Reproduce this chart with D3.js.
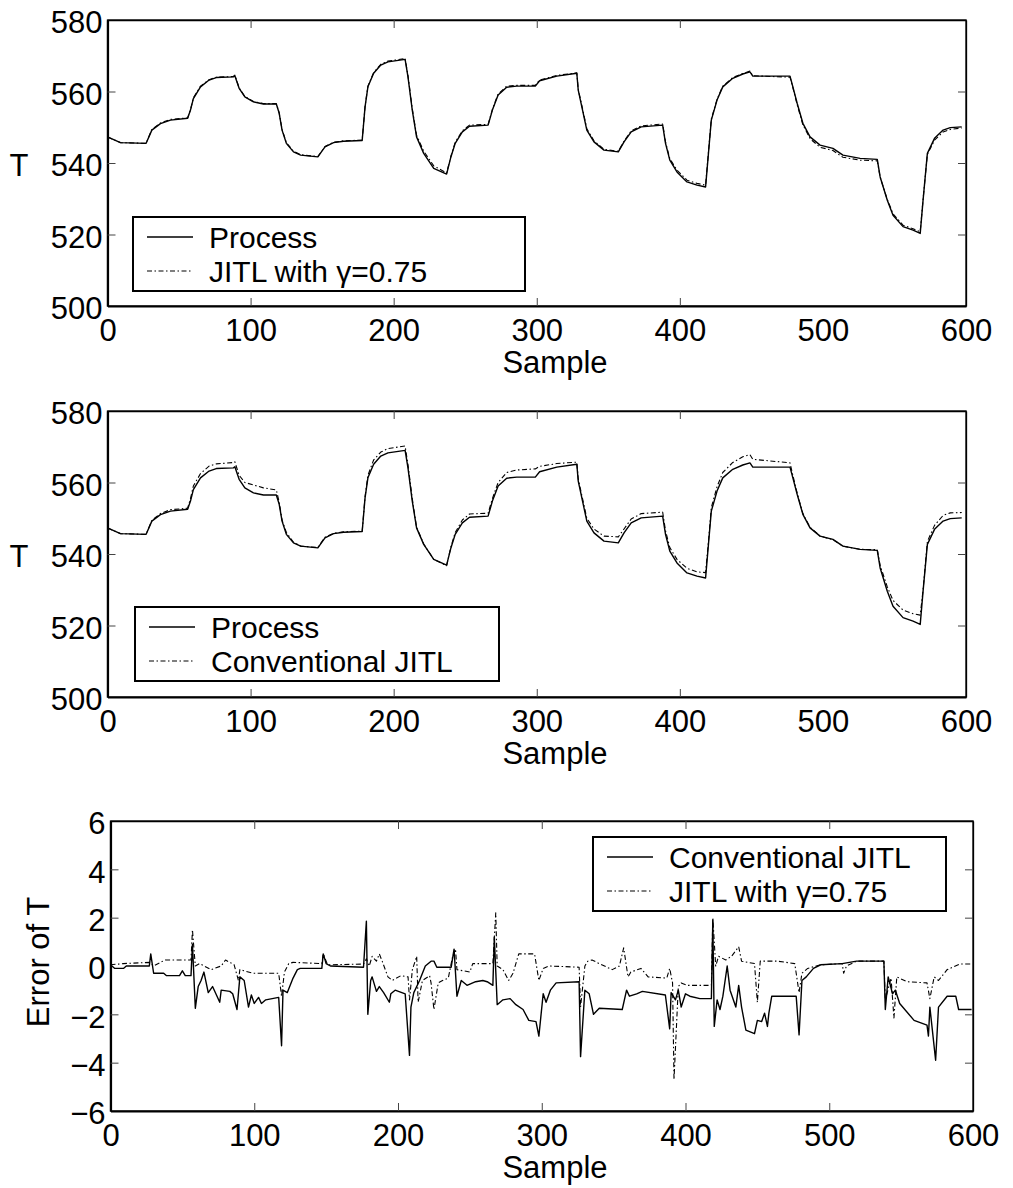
<!DOCTYPE html>
<meta charset="utf-8">
<style>
  body { margin: 0; background: #fff; }
  svg text { font-family: "Liberation Sans", Arial, sans-serif; fill: #000; }
</style>
<body>
<script src="https://d3js.org/d3.v7.min.js"></script>
<script>
// sample index shared by the temperature curves
const sample = [0, 9, 27, 31, 37, 44, 56, 58, 60, 65, 71, 76, 88, 89, 92, 96, 102, 109, 118, 120,
  122, 125, 130, 135, 147, 152, 158, 165, 178, 180, 182, 186, 191, 196, 208, 210, 213, 216, 221, 228,
  237, 240, 243, 248, 253, 266, 269, 273, 279, 286, 299, 302, 314, 328, 329, 332, 335, 340, 347, 357,
  361, 366, 373, 388, 390, 393, 398, 405, 412, 418, 420, 422, 426, 430, 437, 444, 449, 451, 477, 479,
  482, 486, 491, 498, 507, 514, 526, 538, 540, 545, 549, 556, 563, 568, 570, 573, 578, 584, 589, 597];

const processT = [547.3, 545.7, 545.5, 549.2, 551.0, 552.0, 552.5, 554.8, 558.0, 561.3, 563.2, 563.9, 564.1, 564.4, 560.9, 558.5, 557.1, 556.5, 556.5, 553.9,
  549.2, 545.5, 543.1, 542.2, 541.7, 544.5, 545.7, 546.1, 546.3, 555.7, 561.3, 565.1, 567.4, 568.3, 569.0, 564.1, 554.8, 547.3, 542.7, 538.5,
  536.9, 541.7, 545.5, 548.7, 550.3, 550.6, 554.8, 559.0, 561.2, 561.5, 561.5, 563.0, 564.3, 565.1, 560.4, 554.8, 549.2, 545.9, 543.6, 543.1,
  545.9, 548.7, 550.1, 550.6, 545.5, 540.8, 537.5, 534.7, 533.8, 533.3, 542.7, 552.0, 557.6, 561.3, 563.7, 564.9, 565.5, 564.3, 564.3, 561.3,
  556.7, 551.1, 547.3, 545.0, 544.1, 542.2, 541.3, 541.0, 536.1, 529.6, 525.4, 522.2, 521.2, 520.3, 529.6, 542.7, 546.9, 549.2, 549.9, 550.1];

const gammaT = [547.3, 545.7, 545.5, 549.4, 551.2, 552.2, 552.6, 554.9, 558.2, 561.5, 563.3, 564.0, 564.2, 564.6, 561.0, 558.6, 557.2, 556.6, 556.6, 554.0,
  549.4, 545.7, 543.3, 542.3, 541.8, 544.6, 545.8, 546.2, 546.4, 555.8, 561.5, 565.3, 567.6, 568.5, 569.2, 564.5, 555.2, 547.8, 543.3, 539.2,
  537.2, 541.9, 545.8, 549.0, 550.6, 550.8, 555.0, 559.3, 561.5, 561.7, 561.7, 563.2, 564.5, 565.2, 560.6, 555.2, 549.6, 546.2, 543.8, 543.3,
  546.1, 549.0, 550.4, 550.9, 545.9, 541.2, 538.0, 535.2, 534.3, 533.8, 543.0, 552.3, 557.8, 561.5, 563.9, 565.0, 565.7, 564.4, 564.0, 561.1,
  556.3, 550.7, 546.8, 544.4, 543.5, 541.6, 540.8, 540.6, 536.0, 529.8, 525.8, 522.6, 521.6, 520.8, 529.8, 542.4, 546.4, 548.7, 549.4, 549.8];

const convT = [547.3, 545.7, 545.5, 549.4, 551.3, 552.4, 552.8, 555.5, 559.0, 562.5, 564.6, 565.2, 565.6, 565.8, 562.0, 560.0, 559.3, 558.5, 557.9, 554.5,
  549.5, 546.0, 543.3, 542.2, 541.8, 544.7, 545.8, 546.2, 546.4, 556.0, 562.0, 566.3, 568.5, 569.5, 570.2, 565.0, 555.5, 547.5, 542.8, 538.5,
  536.7, 542.0, 546.0, 549.5, 551.2, 551.4, 555.5, 560.0, 562.8, 563.5, 563.8, 564.5, 565.3, 565.7, 561.0, 555.5, 550.0, 547.0, 545.0, 544.8,
  547.0, 549.8, 551.3, 551.7, 546.5, 541.8, 538.5, 536.0, 535.0, 534.8, 543.5, 553.0, 558.8, 562.8, 565.6, 567.2, 567.8, 566.5, 565.5, 562.0,
  557.0, 551.3, 547.5, 545.0, 544.0, 542.2, 541.3, 541.2, 536.8, 530.8, 527.0, 524.3, 523.3, 522.9, 530.0, 543.5, 548.0, 550.8, 551.5, 551.6];

// prediction errors (bottom panel)
const convErrSample = [0, 3, 9, 11, 27, 28, 30, 37, 39, 48, 50, 52, 56, 57, 59, 61, 63, 65, 68, 71,
  76, 77, 83, 85, 88, 90, 93, 96, 98, 100, 103, 105, 108, 117, 119, 120, 123, 127, 130, 132,
  147, 148, 150, 153, 176, 178, 179, 181, 182, 185, 187, 190, 194, 195, 198, 205, 208, 209, 211, 215,
  219, 223, 225, 227, 237, 239, 241, 244, 248, 254, 259, 262, 266, 267, 269, 273, 278, 282, 287, 291,
  296, 298, 301, 303, 306, 310, 326, 327, 330, 333, 336, 340, 356, 359, 361, 366, 370, 386, 389, 390,
  393, 395, 397, 400, 403, 410, 418, 419, 420, 422, 424, 426, 429, 431, 435, 437, 439, 442, 448, 450,
  453, 455, 457, 458, 460, 477, 479, 481, 484, 489, 494, 509, 519, 538, 539, 541, 544, 546, 549, 559,
  568, 569, 570, 574, 576, 582, 588, 590, 599];
const convErr = [0.05, -0.1, -0.1, 0.0, 0.0, 0.5, -0.3, -0.3, -0.4, -0.4, -0.2, -0.4, -0.4, 0.9, -1.75, -0.85, -0.6, -0.25, -1.1, -0.85,
  -1.5, -1.0, -1.05, -1.15, -1.8, -0.45, -0.6, -1.7, -1.2, -1.55, -1.3, -1.55, -1.4, -1.3, -3.3, -1.0, -1.1, -0.5, -0.15, -0.1,
  -0.1, 0.5, 0.1, 0.0, -0.05, 1.85, -2.0, -0.6, -0.45, -1.05, -0.85, -1.1, -1.5, -1.15, -1.0, -1.15, -3.7, -1.7, -1.1, -0.6,
  0.0, 0.2, 0.2, -0.05, -0.05, 0.7, -1.25, -0.6, -0.8, -0.65, -0.6, -0.65, -0.8, 1.2, -1.6, -1.4, -1.35, -1.6, -1.8, -2.25,
  -2.3, -2.9, -1.15, -1.5, -1.0, -0.7, -0.65, -3.75, -1.0, -1.15, -2.0, -1.75, -1.8, -1.0, -1.25, -1.15, -1.05, -1.2, -2.6, -1.1,
  -1.4, -1.0, -1.7, -1.15, -1.25, -1.35, -1.35, 1.9, -2.5, -1.4, -1.8, -1.25, 0.0, -1.0, -1.7, -0.8, -1.7, -2.65, -2.8, -2.25,
  -2.3, -1.95, -2.5, -1.95, -1.25, -1.25, -2.85, -0.6, -0.45, -0.1, 0.05, 0.1, 0.2, 0.2, -1.8, -0.45, -1.15, -1.0, -1.55, -2.25,
  -2.45, -2.9, -1.7, -3.9, -1.7, -1.25, -1.25, -1.8, -1.8];

const gammaErrSample = [0, 9, 27, 30, 38, 56, 57, 59, 62, 70, 77, 80, 86, 89, 90, 99, 117, 119, 121, 124,
  127, 147, 148, 151, 176, 178, 180, 182, 185, 187, 189, 193, 196, 202, 207, 208, 210, 213, 214, 217,
  222, 223, 225, 228, 231, 235, 238, 240, 241, 250, 252, 266, 268, 269, 273, 277, 280, 284, 295, 298,
  301, 305, 326, 327, 330, 332, 335, 340, 349, 354, 357, 360, 362, 369, 374, 387, 389, 391, 392, 395,
  397, 401, 418, 419, 421, 423, 428, 432, 437, 439, 448, 450, 452, 464, 476, 479, 481, 485, 494, 509,
  510, 512, 519, 538, 539, 543, 545, 547, 554, 568, 570, 573, 576, 582, 591, 599];
const gammaErr = [0.05, 0.1, 0.15, 0.0, 0.25, 0.25, 1.5, 0.0, 0.1, -0.15, 0.0, 0.25, 0.05, -0.6, -0.15, -0.3, -0.3, -1.25, -0.25, 0.1,
  0.15, 0.1, 0.5, 0.05, 0.08, 0.3, 0.0, 0.4, 0.2, 0.5, 0.2, -0.45, -0.6, -0.4, -0.45, -1.4, -0.15, 0.4, -1.5, -0.6,
  -0.4, -0.7, -1.8, -0.7, -0.6, -0.5, 0.4, 0.7, -0.15, -0.25, 0.1, 0.1, 2.2, 0.0, -0.15, -0.6, -0.3, 0.5, 0.5, -0.6,
  -0.1, 0.0, -0.05, -1.7, 0.0, 0.2, 0.25, 0.1, -0.15, 0.0, 0.75, -0.45, -0.25, -0.1, -0.45, -0.5, -0.1, -0.7, -4.7, -0.85,
  -0.7, -0.8, -0.8, 2.0, 0.0, 0.4, 0.25, 0.4, 0.8, 0.2, 0.1, -1.5, 0.2, 0.2, 0.1, -1.1, -0.3, -0.1, 0.05, 0.1,
  -0.3, 0.0, 0.2, 0.2, -1.4, -0.5, -2.15, -0.45, -0.65, -0.7, -1.35, -0.45, -0.6, -0.15, 0.08, 0.08];

// tick labels
const xTicks = [0, 100, 200, 300, 400, 500, 600];
const tTicks = [500, 520, 540, 560, 580];
const errTicks = [-6, -4, -2, 0, 2, 4, 6];

const FS = 31;      // axis text
const LFS = 30;     // legend text
const dashDot = "5,2.5,1.5,2.5";

const svg = d3.select("body").append("svg")
    .attr("width", 1013)
    .attr("height", 1188);

function drawPanel(p) {
  const x = d3.scaleLinear().domain([0, 600]).range([p.left, p.right]);
  const y = d3.scaleLinear().domain(p.yDomain).range([p.bottom, p.top]);
  const g = svg.append("g");

  // box
  g.append("rect")
      .attr("x", p.left).attr("y", p.top)
      .attr("width", p.right - p.left).attr("height", p.bottom - p.top)
      .attr("fill", "none").attr("stroke", "#000").attr("stroke-width", 1.3);

  // inner ticks on all four sides
  const bottom = g.append("g")
      .attr("transform", "translate(0," + p.bottom + ")")
      .call(d3.axisBottom(x).tickValues(xTicks).tickSizeInner(-8).tickSizeOuter(0).tickPadding(13));
  const left = g.append("g")
      .attr("transform", "translate(" + p.left + ",0)")
      .call(d3.axisLeft(y).tickValues(p.yTicks).tickSizeInner(-8).tickSizeOuter(0).tickPadding(5));
  g.append("g")
      .attr("transform", "translate(0," + p.top + ")")
      .call(d3.axisTop(x).tickValues(xTicks).tickSizeInner(-8).tickSizeOuter(0).tickFormat(""));
  g.append("g")
      .attr("transform", "translate(" + p.right + ",0)")
      .call(d3.axisRight(y).tickValues(p.yTicks).tickSizeInner(-8).tickSizeOuter(0).tickFormat(""));

  g.selectAll(".domain").attr("stroke", "#000").attr("stroke-width", 1.3);
  bottom.select(".domain").attr("stroke-width", 2.2);
  left.select(".domain").attr("stroke-width", 2.2);
  g.selectAll(".tick line").attr("stroke", "#444").attr("stroke-width", 1);
  g.selectAll(".tick text").attr("font-size", FS).attr("font-family", null).attr("fill", "#000");
  left.selectAll(".tick text").attr("y", 3);
  // ticks at the box corners are hidden by the frame
  g.selectAll(".tick").filter(d => d === 0 || d === 600 || d === p.yDomain[0] || d === p.yDomain[1])
      .select("line").attr("stroke", "none");

  // curves
  const line = d3.line().x(d => x(d[0])).y(d => y(d[1]));
  p.series.forEach(s => {
    g.append("path")
        .datum(d3.zip(s.xs, s.ys))
        .attr("d", line)
        .attr("fill", "none")
        .attr("stroke", "#000")
        .attr("stroke-width", s.dash ? 1.1 : 1.4)
        .attr("stroke-dasharray", s.dash ? dashDot : null)
        .attr("stroke-linejoin", "round");
  });

  // axis titles
  g.append("text")
      .attr("x", 555).attr("y", p.bottom + 67)
      .attr("text-anchor", "middle").attr("font-size", FS)
      .text("Sample");
  if (p.rotateTitle) {
    g.append("text")
        .attr("transform", "translate(" + p.titleX + "," + ((p.top + p.bottom) / 2 - 4) + ") rotate(-90)")
        .attr("text-anchor", "middle").attr("dy", "0.35em").attr("font-size", FS)
        .text(p.yTitle);
  } else {
    g.append("text")
        .attr("x", p.titleX).attr("y", (p.top + p.bottom) / 2 + 2)
        .attr("text-anchor", "middle").attr("dy", "0.35em").attr("font-size", FS)
        .text(p.yTitle);
  }

  // legend
  const L = p.legend;
  const lg = g.append("g");
  lg.append("rect")
      .attr("x", L.x0).attr("y", L.y0)
      .attr("width", L.x1 - L.x0).attr("height", L.y1 - L.y0)
      .attr("fill", "#fff").attr("stroke", "#000").attr("stroke-width", 2);
  p.series.forEach((s, i) => {
    const cy = L.y0 + 20 + i * 34;
    lg.append("line")
        .attr("x1", L.x0 + 14).attr("x2", L.x0 + 60)
        .attr("y1", cy).attr("y2", cy)
        .attr("stroke", "#000")
        .attr("stroke-width", s.dash ? 1.1 : 1.4)
        .attr("stroke-dasharray", s.dash ? dashDot : null);
    lg.append("text")
        .attr("x", L.x0 + 76).attr("y", cy)
        .attr("dy", "0.35em").attr("font-size", LFS)
        .text(s.name);
  });
}

drawPanel({
  left: 107.5, right: 966, top: 20, bottom: 306,
  yDomain: [500, 580], yTicks: tTicks, yTitle: "T", titleX: 19,
  series: [
    {name: "Process", xs: sample, ys: processT},
    {name: "JITL with \u03b3=0.75", dash: true, xs: sample, ys: gammaT}
  ],
  legend: {x0: 133, y0: 217, x1: 525, y1: 291}
});

drawPanel({
  left: 107.5, right: 966, top: 411, bottom: 697,
  yDomain: [500, 580], yTicks: tTicks, yTitle: "T", titleX: 19,
  series: [
    {name: "Process", xs: sample, ys: processT},
    {name: "Conventional JITL", dash: true, xs: sample, ys: convT}
  ],
  legend: {x0: 135, y0: 607, x1: 499, y1: 681}
});

drawPanel({
  left: 110.5, right: 973, top: 821, bottom: 1111,
  yDomain: [-6, 6], yTicks: errTicks, yTitle: "Error of T", titleX: 38, rotateTitle: true,
  series: [
    {name: "Conventional JITL", xs: convErrSample, ys: convErr},
    {name: "JITL with \u03b3=0.75", dash: true, xs: gammaErrSample, ys: gammaErr}
  ],
  legend: {x0: 593, y0: 837, x1: 946, y1: 911}
});
</script>
</body>
